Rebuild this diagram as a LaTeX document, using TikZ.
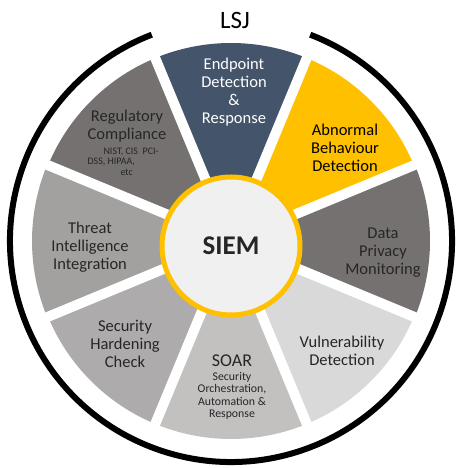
\documentclass[tikz,border=0pt]{standalone}
\usepackage{fontspec}
\setmainfont{Carlito}
\usepackage{tikz}

\definecolor{edrblue}{HTML}{44546A}
\definecolor{gold}{HTML}{FFC000}
\definecolor{darkgrey}{HTML}{767171}
\definecolor{threatgrey}{HTML}{A3A0A0}
\definecolor{hardgrey}{HTML}{ADABAB}
\definecolor{soargrey}{HTML}{C3C0C0}
\definecolor{lightgrey}{HTML}{D9D9D9}
\definecolor{centregrey}{HTML}{F0F0F0}
\definecolor{txtgrey}{HTML}{262626}

\begin{document}
\begin{tikzpicture}[x=1pt, y=1pt,
    label/.style={align=center, text=txtgrey, font=\fontsize{16.5}{18}\selectfont},
    small/.style={align=center, text=txtgrey, font=\fontsize{11.8}{12.4}\selectfont}]
    \useasboundingbox (0,0) rectangle (465,468);
    \coordinate (c) at (231,227);

    % Segments
    \fill[edrblue] (c) -- ++(67.5:198) arc[start angle=67.5, end angle=112.5, radius=198] -- cycle;
    \fill[gold] (c) -- ++(22.5:198) arc[start angle=22.5, end angle=67.5, radius=198] -- cycle;
    \fill[darkgrey] (c) -- ++(-22.5:199) arc[start angle=-22.5, end angle=22.5, radius=199] -- cycle;
    \fill[lightgrey] (c) -- ++(-67.5:198) arc[start angle=-67.5, end angle=-22.5, radius=198] -- cycle;
    \fill[soargrey] (c) -- ++(-112.5:198) arc[start angle=-112.5, end angle=-67.5, radius=198] -- cycle;
    \fill[hardgrey] (c) -- ++(-157.5:198) arc[start angle=-157.5, end angle=-112.5, radius=198] -- cycle;
    \fill[threatgrey] (c) -- ++(157.5:199) arc[start angle=157.5, end angle=202.5, radius=199] -- cycle;
    \fill[darkgrey] (c) -- ++(112.5:198) arc[start angle=112.5, end angle=157.5, radius=198] -- cycle;

    % Gaps
    \draw[white, line width=10pt] (c) -- ++(22.5:205);
    \draw[white, line width=10pt] (c) -- ++(67.5:205);
    \draw[white, line width=10pt] (c) -- ++(112.5:205);
    \draw[white, line width=10pt] (c) -- ++(157.5:205);
    \draw[white, line width=10pt] (c) -- ++(202.5:205);
    \draw[white, line width=10pt] (c) -- ++(247.5:205);
    \draw[white, line width=10pt] (c) -- ++(292.5:205);
    \draw[white, line width=10pt] (c) -- ++(337.5:205);

    % Outer ring
    \draw[line width=6pt] (c) ++(69:221) arc[start angle=69, end angle=-249, radius=221];
    \node[font=\fontsize{25}{27}\selectfont] (lsj) at (235,448) {LSJ};

    % Centre
    \node[circle, draw=gold, line width=5pt, fill=centregrey, minimum size=138pt,
        font=\bfseries\fontsize{27}{30}\selectfont, text=txtgrey] (siem) at (231,222) {SIEM};

    % Labels
    \node[label, text=white] (edr) at (234,376) {Endpoint\\Detection\\\&\\Response};
    \node[label, text=black] (abn) at (345,320) {Abnormal\\Behaviour\\Detection};
    \node[label] (dpm) at (383,215) {Data\\Privacy\\Monitoring};
    \node[label] (vul) at (342,117) {Vulnerability\\Detection};
    \node[label, font=\fontsize{18}{20}\selectfont] (soar) at (232,107) {SOAR};
    \node[small] (soardesc) at (232,72) {Security\\Orchestration,\\Automation \&\\Response};
    \node[label] (shc) at (125,124) {Security\\Hardening\\Check};
    \node[label] (tii) at (90,221) {Threat\\Intelligence\\Integration};
    \node[label] (reg) at (127,342) {Regulatory\\Compliance};
    \node[align=left, text=txtgrey, font=\fontsize{10}{10.8}\selectfont, anchor=north west]
        (regdesc) at (84,324) {\hspace{16pt}NIST, CIS~~PCI-\\DSS, HIPAA,\\\hspace{33pt}etc};
\end{tikzpicture}
\end{document}
